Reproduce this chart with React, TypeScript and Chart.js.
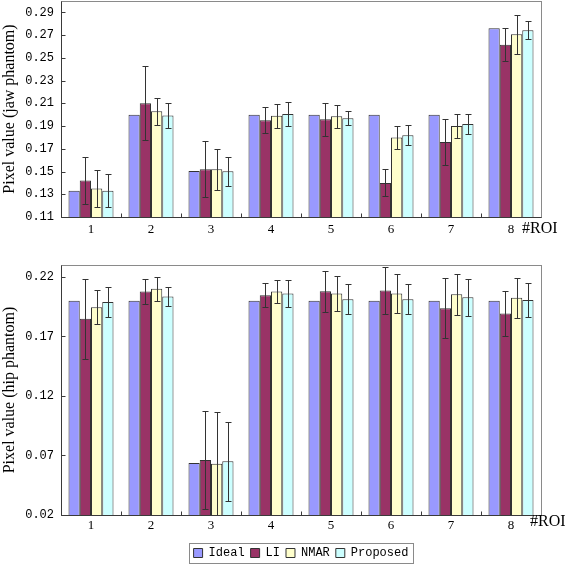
import React, { useEffect, useRef } from 'react';
import { Chart, registerables } from 'chart.js';

Chart.register(...registerables);

// ---------- data ----------
const categories = ['1', '2', '3', '4', '5', '6', '7', '8'];
const seriesNames = ['Ideal', 'LI', 'NMAR', 'Proposed'];
const seriesColors = ['#9999FF', '#993366', '#FFFFCC', '#CCFFFF'];
const xAxisName = '#ROI';

// jaw phantom
const jawTitle = 'Pixel value (jaw phantom)';
const jawTicks = [0.11, 0.13, 0.15, 0.17, 0.19, 0.21, 0.23, 0.25, 0.27, 0.29];
const jawMin = 0.11;
const jawMax = 0.3;
const jawIdeal = [0.133, 0.2, 0.1505, 0.2, 0.2, 0.2, 0.2, 0.276];
const jawLI = [0.142, 0.21, 0.152, 0.195, 0.196, 0.14, 0.176, 0.2615];
const jawLIErr = [0.021, 0.0326, 0.0245, 0.0115, 0.0145, 0.0118, 0.0201, 0.0144];
const jawNMAR = [0.135, 0.203, 0.152, 0.199, 0.1987, 0.18, 0.19, 0.2708];
const jawNMARErr = [0.0163, 0.012, 0.018, 0.0105, 0.0101, 0.0103, 0.0104, 0.017];
const jawProposed = [0.133, 0.1992, 0.1502, 0.2007, 0.1969, 0.182, 0.1919, 0.2742];
const jawProposedErr = [0.0146, 0.0112, 0.0128, 0.0107, 0.006, 0.0085, 0.0085, 0.008];

// hip phantom
const hipTitle = 'Pixel value (hip phantom)';
const hipTicks = [0.02, 0.07, 0.12, 0.17, 0.22];
const hipMin = 0.02;
const hipMax = 0.23;
const hipIdeal = [0.2, 0.2, 0.0637, 0.2, 0.2, 0.2, 0.2, 0.2];
const hipLI = [0.1848, 0.2078, 0.0662, 0.2045, 0.208, 0.2086, 0.1937, 0.1892];
const hipLIErr = [0.0338, 0.0105, 0.041, 0.0101, 0.0171, 0.0197, 0.025, 0.0192];
const hipNMAR = [0.1945, 0.21, 0.063, 0.2078, 0.206, 0.206, 0.2054, 0.2024];
const hipNMARErr = [0.0144, 0.0101, 0.0437, 0.0097, 0.0147, 0.0167, 0.0172, 0.0165];
const hipProposed = [0.199, 0.2035, 0.0651, 0.206, 0.2012, 0.2012, 0.2029, 0.2007];
const hipProposedErr = [0.0125, 0.0083, 0.033, 0.0113, 0.0127, 0.0125, 0.0157, 0.0143];

// ---------- plugin: error bars, frame, inner ticks, axis name, legend frame ----------
const decorPlugin = {
  id: 'panelDecor',
  afterLayout(chart: any, _args: any, opts: any) {
    const lg = chart.legend;
    if (lg && chart.options.plugins.legend.display) {
      const ca = chart.chartArea;
      lg.left = ca.left;
      lg.right = ca.right;
      lg.width = ca.right - ca.left;
      if (opts.legendTop != null) {
        const h = lg.height;
        lg.top = opts.legendTop;
        lg.bottom = lg.top + h;
      }
    }
  },
  afterDatasetsDraw(chart: any) {
    const ctx = chart.ctx;
    const ys = chart.scales.y;
    const ca = chart.chartArea;
    ctx.save();
    ctx.beginPath();
    ctx.rect(ca.left, ca.top, ca.right - ca.left, ca.bottom - ca.top);
    ctx.clip();
    ctx.strokeStyle = '#333333';
    ctx.lineWidth = 1;
    chart.data.datasets.forEach((ds: any, di: number) => {
      const errs = ds.errors;
      if (!errs) return;
      const meta = chart.getDatasetMeta(di);
      meta.data.forEach((bar: any, i: number) => {
        const v = ds.data[i];
        const e = errs[i];
        const x = Math.round(bar.x) + 0.5;
        const yt = Math.round(ys.getPixelForValue(v + e)) + 0.5;
        const yb = Math.round(ys.getPixelForValue(v - e)) + 0.5;
        ctx.beginPath();
        ctx.moveTo(x, yt);
        ctx.lineTo(x, yb);
        ctx.moveTo(x - 3, yt);
        ctx.lineTo(x + 3, yt);
        ctx.moveTo(x - 3, yb);
        ctx.lineTo(x + 3, yb);
        ctx.stroke();
      });
    });
    ctx.restore();
  },
  afterDraw(chart: any, _args: any, opts: any) {
    const ctx = chart.ctx;
    const ca = chart.chartArea;
    const xs = chart.scales.x;
    const ys = chart.scales.y;
    const L = Math.round(ca.left) + 0.5;
    const R = Math.round(ca.right) + 0.5;
    const T = Math.round(ca.top) + 0.5;
    const B = Math.round(ca.bottom) + 0.5;
    ctx.save();
    // frame
    ctx.lineWidth = 1;
    ctx.strokeStyle = '#8a8a8a';
    ctx.strokeRect(L, T, R - L, B - T);
    ctx.strokeStyle = '#3a3a3a';
    ctx.beginPath();
    ctx.moveTo(L, T);
    ctx.lineTo(L, B);
    ctx.lineTo(R, B);
    ctx.stroke();
    // inner ticks on x (between categories)
    ctx.beginPath();
    for (let i = 0; i < categories.length - 1; i++) {
      const xb = Math.round((xs.getPixelForTick(i) + xs.getPixelForTick(i + 1)) / 2) + 0.5;
      ctx.moveTo(xb, B);
      ctx.lineTo(xb, B - 4);
    }
    // inner ticks on y
    ys.ticks.forEach((t: any) => {
      const py = Math.round(ys.getPixelForValue(t.value)) + 0.5;
      ctx.moveTo(L, py);
      ctx.lineTo(L + 4, py);
    });
    ctx.stroke();
    // axis name
    ctx.fillStyle = '#000';
    ctx.font = '16px "Liberation Serif"';
    ctx.textAlign = 'left';
    ctx.textBaseline = 'top';
    ctx.fillText(xAxisName, ca.right + (opts.roiDx || 0), ca.bottom + (opts.roiDy || 0));
    // legend frame
    const lg = chart.legend;
    if (lg && chart.options.plugins.legend.display && lg.legendHitBoxes && lg.legendHitBoxes.length) {
      const hb = lg.legendHitBoxes;
      let minL = Infinity;
      let maxR = -Infinity;
      hb.forEach((h: any) => {
        minL = Math.min(minL, h.left);
        maxR = Math.max(maxR, h.left + h.width);
      });
      const cy = hb[0].top + hb[0].height / 2;
      ctx.strokeStyle = '#8a8a8a';
      ctx.strokeRect(Math.round(minL - 5) + 0.5, Math.round(cy - 10) + 0.5, Math.round(maxR - minL + 9), 20);
    }
    ctx.restore();
  },
};

type PanelCfg = {
  title: string;
  ticks: number[];
  min: number;
  max: number;
  series: number[][];
  errors: (number[] | null)[];
  legend: boolean;
  xHeight: number;
  xPad: number;
  padTop: number;
  roiDx: number;
  roiDy: number;
  legendTop?: number;
};

function makeChart(canvas: HTMLCanvasElement, cfg: PanelCfg) {
  const datasets = seriesNames.map((name, si) => ({
    label: name,
    data: cfg.series[si],
    errors: cfg.errors[si],
    backgroundColor: seriesColors[si],
    borderColor: '#333333',
    borderWidth: 1,
    categoryPercentage: 0.75,
    barPercentage: 1.0,
  }));
  return new Chart(canvas, {
    type: 'bar',
    data: { labels: categories, datasets: datasets as any },
    plugins: [decorPlugin as any],
    options: {
      responsive: false,
      animation: false,
      layout: { padding: { left: 0, right: 26, top: cfg.padTop, bottom: 0 } },
      plugins: {
        tooltip: { enabled: false },
        legend: {
          display: cfg.legend,
          position: 'bottom',
          labels: {
            boxWidth: 9,
            boxHeight: 9,
            padding: 6,
            color: '#000',
            font: { family: '"Liberation Mono"', size: 12 },
          },
        },
        panelDecor: { roiDx: cfg.roiDx, roiDy: cfg.roiDy, legendTop: cfg.legendTop },
      } as any,
      scales: {
        x: {
          grid: { display: false, drawTicks: false },
          border: { display: false },
          ticks: {
            color: '#000',
            font: { family: '"Liberation Serif"', size: 13 },
            padding: cfg.xPad,
            maxRotation: 0,
            autoSkip: false,
          },
          afterFit: (s: any) => {
            s.height = cfg.xHeight;
            s.paddingLeft = 0;
            s.paddingRight = 0;
          },
        },
        y: {
          min: cfg.min,
          max: cfg.max,
          grid: { display: false, drawTicks: false },
          border: { display: false },
          afterBuildTicks: (s: any) => {
            s.ticks = cfg.ticks.map((v) => ({ value: v }));
          },
          afterFit: (s: any) => {
            s.width = 61;
            s.paddingTop = 0;
            s.paddingBottom = 0;
          },
          ticks: {
            color: '#000',
            font: { family: '"Liberation Mono"', size: 12 },
            padding: 7,
            callback: (v: any) => Number(v).toFixed(2),
          },
          title: {
            display: true,
            text: cfg.title,
            color: '#000',
            font: { family: '"Liberation Serif"', size: 16 },
            padding: 0,
          },
        },
      },
    } as any,
  });
}

export default function App() {
  const topRef = useRef<HTMLCanvasElement>(null);
  const botRef = useRef<HTMLCanvasElement>(null);

  useEffect(() => {
    const c1 = makeChart(topRef.current!, {
      title: jawTitle,
      ticks: jawTicks,
      min: jawMin,
      max: jawMax,
      series: [jawIdeal, jawLI, jawNMAR, jawProposed],
      errors: [null, jawLIErr, jawNMARErr, jawProposedErr],
      legend: false,
      xHeight: 28,
      xPad: 5,
      padTop: 1,
      roiDx: -19,
      roiDy: 4,
    });
    const c2 = makeChart(botRef.current!, {
      title: hipTitle,
      ticks: hipTicks,
      min: hipMin,
      max: hipMax,
      series: [hipIdeal, hipLI, hipNMAR, hipProposed],
      errors: [null, hipLIErr, hipNMARErr, hipProposedErr],
      legend: true,
      xHeight: 21,
      xPad: 3,
      padTop: 20,
      roiDx: -11,
      roiDy: -1,
      legendTop: 296,
    });
    return () => {
      c1.destroy();
      c2.destroy();
    };
  }, []);

  return (
    <div style={{ position: 'absolute', left: 0, top: 0, width: 567, height: 564, background: '#fff' }}>
      <canvas ref={topRef} width={567} height={245} style={{ position: 'absolute', left: 0, top: 0, display: 'block' }} />
      <canvas ref={botRef} width={567} height={319} style={{ position: 'absolute', left: 0, top: 245, display: 'block' }} />
    </div>
  );
}
